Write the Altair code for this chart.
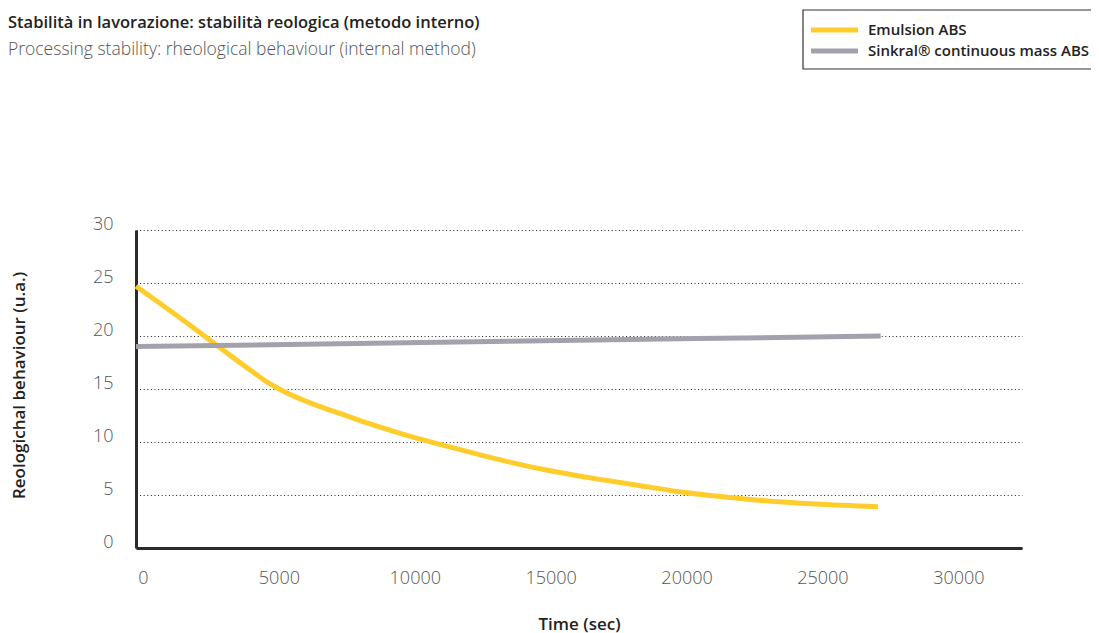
import altair as alt
import pandas as pd

# ---- data ----
series_names = ["Emulsion ABS", "Sinkral® continuous mass ABS"]
series_colors = ["#FFCD2B", "#A3A2AC"]

emulsion_time = [0, 2000, 3500, 4200, 4800, 5500, 6500, 7500, 8500, 10000, 11000, 12500,
                 13750, 15000, 17000, 18500, 20000, 22500, 25000, 27300]
emulsion_value = [24.7, 21.0, 18.1, 16.8, 15.7, 14.7, 13.6, 12.7, 11.8, 10.6, 9.9, 8.9,
                  8.1, 7.4, 6.5, 5.9, 5.3, 4.6, 4.15, 3.9]

sinkral_time = [0, 13700, 27400]
sinkral_value = [19.0, 19.5, 20.0]

x_ticks = [0, 5000, 10000, 15000, 20000, 25000, 30000]
y_ticks = [0, 5, 10, 15, 20, 25, 30]

title_text = "Stabilità in lavorazione: stabilità reologica (metodo interno)"
subtitle_text = "Processing stability: rheological behaviour (internal method)"
x_title = "Time (sec)"
y_title = "Reologichal behaviour (u.a.)"

FONT = "Open Sans"
W, H = 886, 318

df = pd.concat([
    pd.DataFrame({"time": emulsion_time, "value": emulsion_value, "series": series_names[0]}),
    pd.DataFrame({"time": sinkral_time, "value": sinkral_value, "series": series_names[1]}),
])

lines = alt.Chart(df).mark_line(strokeWidth=5, interpolate="monotone", strokeCap="butt").encode(
    x=alt.X("time:Q", scale=alt.Scale(domain=[0, 32600], nice=False, zero=True),
            axis=alt.Axis(values=x_ticks, format="d", title=x_title, grid=False, ticks=False,
                          domainColor="#2a2a2a", domainWidth=3,
                          labelFont=FONT, labelFontSize=18, labelFontWeight=300,
                          labelColor="#555555", labelPadding=21, labelOffset=7,
                          labelFlush=False,
                          titleFont=FONT, titleFontSize=17, titleFontWeight=600,
                          titleColor="#222222", titleX=443, titleY=81,
                          titleBaseline="alphabetic", titleAlign="center")),
    y=alt.Y("value:Q", scale=alt.Scale(domain=[0, 30], nice=False),
            axis=alt.Axis(values=y_ticks, title=y_title, grid=True, ticks=False,
                          gridColor="#222222", gridDash=[1, 2.6], gridWidth=1,
                          domainColor="#2a2a2a", domainWidth=3,
                          labelFont=FONT, labelFontSize=18, labelFontWeight=300,
                          labelColor="#555555", labelPadding=23, labelOffset=-6,
                          titleFont=FONT, titleFontSize=17, titleFontWeight=600,
                          titleColor="#222222", titleX=-117, titleY=155,
                          titleBaseline="middle", titleAlign="center", titleAngle=-90)),
    color=alt.Color("series:N", scale=alt.Scale(domain=series_names, range=series_colors),
                    legend=None),
)

one = pd.DataFrame({"k": [0]})

layers = [lines]

# titles
layers.append(alt.Chart(one).mark_text(text=title_text, font=FONT, fontSize=16.5, fontWeight=600,
                                        color="#222222", align="left", baseline="alphabetic")
              .encode(x=alt.value(-128), y=alt.value(-202)))
layers.append(alt.Chart(one).mark_text(text=subtitle_text, font=FONT, fontSize=17.5, fontWeight=300,
                                        color="#555555", align="left", baseline="alphabetic")
              .encode(x=alt.value(-128), y=alt.value(-175)))

# legend box
layers.append(alt.Chart(one).mark_rect(filled=False, stroke="#333333", strokeWidth=1.2)
              .encode(x=alt.value(667), x2=alt.value(961), y=alt.value(-220), y2=alt.value(-161)))
for i, (name, col) in enumerate(zip(series_names, series_colors)):
    yy = -200 + 21 * i
    layers.append(alt.Chart(one).mark_rule(strokeWidth=5, color=col)
                  .encode(x=alt.value(675), x2=alt.value(722), y=alt.value(yy)))
    layers.append(alt.Chart(one).mark_text(text=name, font=FONT, fontSize=15, fontWeight=600,
                                            color="#222222", align="left", baseline="middle")
                  .encode(x=alt.value(732), y=alt.value(yy)))

chart = alt.layer(*layers).properties(
    width=W, height=H,
    autosize=alt.AutoSizeParams(type="none"),
    padding={"left": 128, "top": 222, "right": 69, "bottom": 88},
).configure_view(stroke=None)

chart.save("out.html", embed_options={"renderer": "svg", "actions": False})
